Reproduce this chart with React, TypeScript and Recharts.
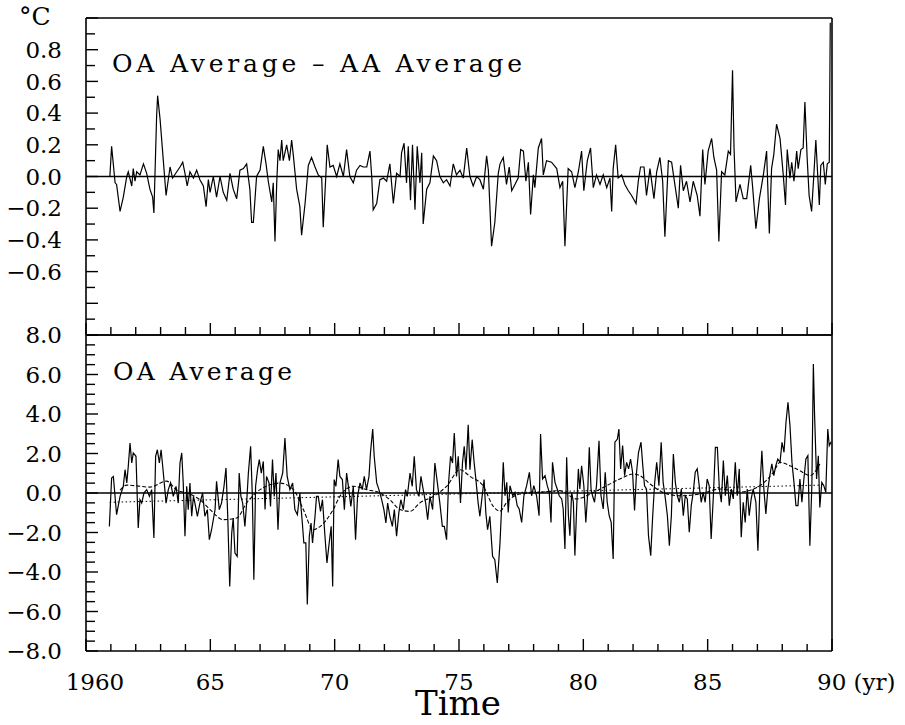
import { LineChart, Line, XAxis, YAxis, ReferenceLine } from 'recharts'

// ---- data: [year, °C] ----

const diffSeries: [number, number][] = [
  [1960.96, 0.0], [1961.03, 0.19], [1961.17, -0.04], [1961.23, -0.05], [1961.37, -0.22], [1961.5, -0.13], [1961.64, 0.0], [1961.7, 0.03],
  [1961.84, -0.06], [1961.9, 0.05], [1961.97, -0.03], [1962.04, 0.03], [1962.17, 0.01], [1962.31, 0.08], [1962.44, 0.02], [1962.57, -0.08],
  [1962.68, -0.13], [1962.73, -0.23], [1962.84, 0.38], [1962.88, 0.51], [1962.98, 0.36], [1963.11, 0.1], [1963.22, -0.12], [1963.38, 0.06],
  [1963.48, -0.01], [1963.65, 0.03], [1963.78, 0.06], [1963.89, 0.09], [1963.98, 0.02], [1964.07, -0.06], [1964.18, 0.03], [1964.32, -0.01],
  [1964.45, 0.04], [1964.58, -0.02], [1964.72, -0.06], [1964.83, -0.19], [1964.92, -0.02], [1964.99, -0.1], [1965.12, 0.0], [1965.25, -0.13],
  [1965.39, 0.0], [1965.52, -0.1], [1965.66, -0.15], [1965.79, 0.02], [1965.92, -0.08], [1966.06, -0.14], [1966.19, 0.04], [1966.33, 0.05],
  [1966.46, 0.08], [1966.59, -0.08], [1966.66, -0.29], [1966.73, -0.29], [1966.86, 0.0], [1967.0, 0.04], [1967.13, 0.19], [1967.24, 0.08],
  [1967.33, -0.03], [1967.47, -0.16], [1967.53, -0.04], [1967.6, -0.41], [1967.67, -0.04], [1967.73, 0.17], [1967.8, 0.1], [1967.87, 0.23],
  [1967.93, 0.1], [1968.07, 0.2], [1968.18, 0.1], [1968.27, 0.23], [1968.34, 0.13], [1968.47, -0.08], [1968.6, -0.19], [1968.67, -0.37],
  [1968.81, -0.17], [1968.94, 0.07], [1969.07, 0.12], [1969.21, 0.06], [1969.34, 0.01], [1969.48, -0.01], [1969.54, -0.32], [1969.65, 0.02],
  [1969.7, 0.2], [1969.81, 0.06], [1969.94, 0.07], [1970.08, 0.0], [1970.21, 0.08], [1970.35, 0.0], [1970.48, 0.17], [1970.61, 0.0],
  [1970.75, -0.04], [1970.88, 0.04], [1971.02, 0.07], [1971.15, 0.06], [1971.29, 0.06], [1971.42, 0.16], [1971.49, 0.0], [1971.55, -0.21],
  [1971.69, -0.17], [1971.82, -0.02], [1971.96, -0.01], [1972.09, -0.03], [1972.22, 0.08], [1972.36, -0.17], [1972.49, 0.02], [1972.63, 0.0],
  [1972.69, 0.15], [1972.79, 0.21], [1972.89, -0.04], [1972.96, 0.19], [1973.05, -0.15], [1973.13, 0.2], [1973.23, -0.21], [1973.32, 0.19],
  [1973.43, -0.04], [1973.5, 0.15], [1973.56, -0.3], [1973.7, -0.08], [1973.83, -0.04], [1973.97, 0.13], [1974.1, 0.1], [1974.23, 0.0],
  [1974.37, -0.04], [1974.5, -0.02], [1974.64, -0.06], [1974.77, 0.08], [1974.9, 0.01], [1975.04, 0.04], [1975.17, -0.01], [1975.31, 0.18],
  [1975.44, 0.0], [1975.57, -0.06], [1975.71, 0.0], [1975.84, -0.02], [1975.98, -0.08], [1976.11, 0.13], [1976.18, 0.04], [1976.31, -0.44],
  [1976.44, -0.29], [1976.58, 0.02], [1976.65, 0.08], [1976.78, 0.12], [1976.91, -0.05], [1977.02, 0.06], [1977.12, -0.09], [1977.25, -0.05],
  [1977.38, -0.01], [1977.48, 0.17], [1977.59, 0.16], [1977.69, -0.03], [1977.79, 0.09], [1977.88, -0.24], [1977.99, 0.01], [1978.05, -0.07],
  [1978.19, 0.18], [1978.32, 0.24], [1978.39, 0.01], [1978.52, 0.1], [1978.72, 0.09], [1978.93, 0.05], [1979.06, -0.07], [1979.17, -0.03],
  [1979.26, -0.44], [1979.39, 0.05], [1979.53, 0.03], [1979.66, -0.07], [1979.8, 0.03], [1979.93, 0.16], [1980.02, -0.09], [1980.16, 0.1],
  [1980.29, 0.18], [1980.4, -0.07], [1980.53, 0.01], [1980.67, -0.05], [1980.8, 0.01], [1980.94, -0.07], [1981.07, -0.01], [1981.14, -0.22],
  [1981.2, 0.05], [1981.3, 0.2], [1981.4, -0.01], [1981.54, 0.01], [1981.67, -0.05], [1981.81, -0.09], [1981.94, -0.12], [1982.12, -0.17],
  [1982.21, -0.03], [1982.3, 0.06], [1982.44, 0.06], [1982.54, -0.12], [1982.68, 0.05], [1982.84, -0.14], [1982.95, 0.03], [1983.08, 0.12],
  [1983.19, -0.03], [1983.28, -0.38], [1983.42, 0.1], [1983.55, 0.09], [1983.68, -0.05], [1983.82, -0.2], [1983.91, 0.07], [1984.02, -0.09],
  [1984.15, -0.03], [1984.29, -0.16], [1984.42, -0.03], [1984.58, -0.12], [1984.69, -0.25], [1984.8, 0.17], [1984.89, -0.05], [1985.02, 0.16],
  [1985.16, 0.24], [1985.25, 0.12], [1985.36, 0.04], [1985.45, -0.41], [1985.56, 0.03], [1985.69, 0.01], [1985.83, 0.16], [1985.92, 0.14],
  [1986.0, 0.67], [1986.06, 0.18], [1986.14, -0.16], [1986.3, -0.05], [1986.43, -0.14], [1986.57, -0.14], [1986.73, 0.07], [1986.81, -0.07],
  [1986.94, -0.33], [1987.08, -0.14], [1987.24, 0.01], [1987.37, 0.16], [1987.48, -0.36], [1987.57, 0.05], [1987.66, 0.14], [1987.77, 0.33],
  [1987.91, 0.24], [1988.04, 0.01], [1988.13, -0.18], [1988.2, 0.17], [1988.31, -0.01], [1988.38, 0.09], [1988.47, -0.03], [1988.58, 0.16],
  [1988.64, 0.05], [1988.75, 0.17], [1988.84, 0.18], [1988.91, 0.47], [1989.0, 0.12], [1989.08, -0.12], [1989.18, -0.22], [1989.27, 0.01],
  [1989.35, 0.23], [1989.49, -0.18], [1989.55, 0.07], [1989.65, 0.09], [1989.73, -0.05], [1989.81, 0.08], [1989.89, 0.09], [1989.93, 0.97],
]

const oaSeries: [number, number][] = [
  [1960.94, -1.69], [1961.03, 0.76], [1961.1, 0.84], [1961.23, -1.1], [1961.37, -0.17], [1961.5, 0.34], [1961.57, 1.18], [1961.64, 0.51],
  [1961.7, 1.35], [1961.77, 2.53], [1961.84, 1.52], [1961.9, 2.03], [1962.01, 1.86], [1962.1, -1.77], [1962.17, -0.34], [1962.24, -0.51],
  [1962.33, 0.0], [1962.44, 0.17], [1962.55, -0.17], [1962.64, 0.17], [1962.73, -2.28], [1962.8, 1.86], [1962.87, 2.19], [1962.95, 1.52],
  [1963.02, 2.19], [1963.11, 1.01], [1963.22, -0.51], [1963.31, 0.17], [1963.4, 0.51], [1963.51, -0.17], [1963.62, 0.34], [1963.71, -0.51],
  [1963.78, 1.52], [1963.85, 2.03], [1963.91, 0.51], [1963.98, -2.19], [1964.05, 0.34], [1964.11, -0.84], [1964.18, 0.51], [1964.25, -1.18],
  [1964.32, -0.17], [1964.38, -0.51], [1964.48, -1.18], [1964.58, -0.51], [1964.69, 0.0], [1964.78, -1.18], [1964.88, -0.84], [1964.96, -2.36],
  [1965.05, -1.86], [1965.19, -0.84], [1965.25, 0.59], [1965.36, -0.84], [1965.45, -0.51], [1965.55, 0.34], [1965.63, 1.27], [1965.7, -1.18],
  [1965.78, -4.73], [1965.86, -2.03], [1965.92, -1.27], [1965.99, -3.04], [1966.08, -3.21], [1966.16, 1.01], [1966.23, -0.17], [1966.3, -0.51],
  [1966.39, -1.69], [1966.46, -0.51], [1966.53, 1.01], [1966.62, 2.36], [1966.69, -0.17], [1966.75, -4.39], [1966.82, 0.34], [1966.9, 1.18],
  [1966.97, 1.69], [1967.05, 1.01], [1967.13, 1.6], [1967.2, -0.84], [1967.26, 0.84], [1967.36, 0.51], [1967.42, -0.68], [1967.5, 1.69],
  [1967.57, -0.17], [1967.64, 1.01], [1967.72, -1.86], [1967.8, 0.51], [1967.91, 1.01], [1968.0, 2.78], [1968.09, 0.84], [1968.2, 0.17],
  [1968.31, 0.51], [1968.4, -0.84], [1968.5, -1.1], [1968.6, 0.0], [1968.7, -1.52], [1968.76, -2.53], [1968.84, -2.53], [1968.9, -5.65],
  [1968.98, -2.19], [1969.05, -1.52], [1969.11, -2.53], [1969.21, -1.18], [1969.27, -0.17], [1969.34, -0.17], [1969.43, -0.93], [1969.51, -0.34],
  [1969.61, -2.19], [1969.69, -3.54], [1969.78, -2.53], [1969.86, -1.69], [1969.92, -4.73], [1969.98, 0.68], [1970.05, 0.34], [1970.14, 1.69],
  [1970.21, 0.84], [1970.31, 0.68], [1970.39, -0.84], [1970.48, 1.01], [1970.57, 0.17], [1970.65, -0.68], [1970.75, 0.34], [1970.84, -2.36],
  [1970.92, -0.17], [1971.02, 0.51], [1971.11, 0.17], [1971.19, 0.84], [1971.28, 0.17], [1971.38, 0.84], [1971.44, 2.03], [1971.53, 3.24],
  [1971.59, 1.86], [1971.69, 0.51], [1971.78, 0.17], [1971.89, -0.34], [1971.98, -0.84], [1972.06, -1.52], [1972.13, -0.51], [1972.22, -1.18],
  [1972.32, -1.69], [1972.4, -0.84], [1972.49, -2.19], [1972.58, -1.01], [1972.66, -0.34], [1972.76, -0.84], [1972.85, 0.17], [1972.92, -0.17],
  [1973.03, 1.01], [1973.12, 0.34], [1973.2, 1.86], [1973.29, 0.17], [1973.39, -0.17], [1973.47, 0.84], [1973.56, 0.17], [1973.66, -0.51],
  [1973.74, -1.35], [1973.83, -0.17], [1973.94, -0.84], [1974.03, 1.52], [1974.13, 0.51], [1974.23, -0.51], [1974.33, -1.69], [1974.41, -1.69],
  [1974.5, -2.36], [1974.58, 0.51], [1974.66, 1.86], [1974.74, 1.52], [1974.81, 3.04], [1974.9, 0.84], [1974.97, 1.86], [1975.06, -0.51],
  [1975.14, 1.52], [1975.21, 2.36], [1975.28, 1.18], [1975.37, 3.46], [1975.44, 1.18], [1975.53, 2.7], [1975.61, 1.52], [1975.68, 0.68],
  [1975.77, -0.51], [1975.84, -1.18], [1975.93, -0.17], [1976.01, 0.68], [1976.08, -1.01], [1976.15, -1.86], [1976.24, -1.18], [1976.35, -3.21],
  [1976.44, -3.38], [1976.54, -4.56], [1976.65, -2.5], [1976.71, -0.81], [1976.78, 1.55], [1976.85, -0.14], [1976.92, 0.54], [1976.98, -0.98],
  [1977.05, 0.37], [1977.16, -0.14], [1977.25, 0.03], [1977.34, -0.64], [1977.42, -0.81], [1977.52, -1.49], [1977.61, -0.14], [1977.72, 0.37],
  [1977.83, 1.05], [1977.92, -0.14], [1978.01, 0.37], [1978.12, -0.14], [1978.22, -1.15], [1978.28, 2.99], [1978.36, 0.71], [1978.46, 0.88],
  [1978.55, 0.37], [1978.63, 0.03], [1978.7, -1.49], [1978.76, 1.55], [1978.86, 0.54], [1978.95, 0.2], [1979.03, -0.14], [1979.13, -0.3],
  [1979.19, -0.81], [1979.26, -2.84], [1979.33, 1.81], [1979.4, -1.15], [1979.46, -2.16], [1979.53, 0.03], [1979.6, -0.47], [1979.66, -3.17],
  [1979.73, -0.81], [1979.8, 1.22], [1979.86, 0.2], [1979.93, 1.38], [1980.02, 0.37], [1980.1, -1.49], [1980.17, -0.14], [1980.24, 2.31],
  [1980.31, 0.2], [1980.37, -0.14], [1980.45, -0.47], [1980.53, 0.37], [1980.63, 2.65], [1980.71, -0.14], [1980.8, -0.81], [1980.88, 1.05],
  [1980.96, -0.47], [1981.04, -1.15], [1981.12, -1.49], [1981.2, -3.34], [1981.27, 2.57], [1981.37, 2.73], [1981.43, 3.24], [1981.5, 1.22],
  [1981.58, 2.4], [1981.66, 0.88], [1981.74, 1.55], [1981.82, 1.22], [1981.9, 1.72], [1981.98, 1.05], [1982.06, -0.89], [1982.14, 1.05],
  [1982.22, 2.06], [1982.32, 2.57], [1982.38, 1.55], [1982.46, 0.37], [1982.54, 0.2], [1982.62, -2.16], [1982.71, -3.17], [1982.79, -1.15],
  [1982.87, 0.54], [1982.95, 1.55], [1983.04, 0.37], [1983.13, 2.57], [1983.21, 0.54], [1983.3, -0.3], [1983.38, -1.15], [1983.46, -2.67],
  [1983.54, -1.15], [1983.62, 1.97], [1983.7, 0.54], [1983.78, -0.14], [1983.86, -0.47], [1983.94, 0.2], [1984.02, -1.15], [1984.1, -0.14],
  [1984.18, -0.3], [1984.26, -1.99], [1984.34, -0.64], [1984.42, 0.03], [1984.5, 1.05], [1984.58, 1.22], [1984.66, 0.37], [1984.74, -0.47],
  [1984.82, 0.03], [1984.9, -0.47], [1984.98, 0.71], [1985.06, 0.37], [1985.14, -2.33], [1985.23, -0.14], [1985.31, 2.31], [1985.39, 2.31],
  [1985.47, 0.2], [1985.55, -0.47], [1985.63, 1.64], [1985.71, -0.14], [1985.79, 0.88], [1985.87, -0.64], [1985.95, 0.2], [1986.03, -0.3],
  [1986.11, 1.55], [1986.19, -0.14], [1986.27, 1.22], [1986.35, -2.24], [1986.43, -0.47], [1986.51, -1.49], [1986.59, 0.2], [1986.67, -1.15],
  [1986.75, -0.3], [1986.83, 0.2], [1986.94, -0.47], [1987.02, -2.92], [1987.1, 0.2], [1987.18, 2.14], [1987.26, 0.2], [1987.34, -1.06],
  [1987.42, 0.2], [1987.5, 0.88], [1987.58, 1.47], [1987.66, 0.88], [1987.74, 1.38], [1987.82, 1.72], [1987.91, 1.55], [1987.99, 2.57],
  [1988.07, 2.06], [1988.15, 3.58], [1988.23, 4.59], [1988.31, 3.41], [1988.39, 1.55], [1988.47, 0.54], [1988.55, -0.64], [1988.63, -0.64],
  [1988.71, 0.71], [1988.79, -0.47], [1988.87, 0.71], [1988.95, 1.72], [1989.03, 1.89], [1989.11, -2.67], [1989.19, 0.37], [1989.25, 6.53],
  [1989.3, 3.92], [1989.38, 0.71], [1989.45, 1.89], [1989.51, -0.73], [1989.59, 0.54], [1989.67, 0.37], [1989.75, 0.03], [1989.83, 3.24],
  [1989.89, 2.4], [1989.97, 2.6],
]

// running mean (dashed)
const oaSmooth: [number, number][] = [
  [1961.37, 0.15], [1961.64, 0.4], [1962.57, 0.3], [1963.24, 0.6], [1963.65, 0.15], [1964.05, 0.0], [1964.58, -0.34], [1964.99, -0.84],
  [1965.52, -1.35], [1966.06, -1.27], [1966.46, -0.5], [1967.0, 0.17], [1967.8, 0.5], [1968.34, 0.17], [1968.74, -0.84], [1969.14, -1.86],
  [1969.41, -1.7], [1969.94, -0.84], [1970.21, -0.17], [1970.75, 0.34], [1971.29, 0.17], [1971.82, 0.0], [1972.22, -0.34], [1972.63, -0.84],
  [1973.03, -0.93], [1973.43, -0.5], [1973.97, -0.17], [1974.5, 0.34], [1975.04, 1.18], [1975.44, 0.84], [1975.98, 0.34], [1976.38, -0.68],
  [1976.65, -0.92], [1976.92, -0.47], [1977.45, -0.05], [1978.26, 0.03], [1979.06, 0.12], [1979.73, -0.3], [1980.4, 0.03], [1980.94, 0.37],
  [1981.47, 0.71], [1982.01, 0.96], [1982.28, 0.88], [1982.68, 0.46], [1983.21, 0.03], [1983.88, -0.14], [1984.69, -0.05], [1985.49, 0.2],
  [1986.3, 0.05], [1987.1, 0.37], [1987.64, 1.05], [1987.91, 1.55], [1988.31, 1.38], [1988.71, 1.13], [1989.11, 0.88], [1989.51, 1.47],
]

// linear trend (dotted)
const oaTrend: [number, number][] = [[1960.95, -0.47], [1989.6, 0.4]]

// ---- ticks ----
const years = [
  1960, 1961, 1962, 1963, 1964, 1965, 1966, 1967, 1968, 1969, 1970, 1971, 1972, 1973, 1974, 1975,
  1976, 1977, 1978, 1979, 1980, 1981, 1982, 1983, 1984, 1985, 1986, 1987, 1988, 1989, 1990,
]
const yearLabels: Record<number, string> = {
  1960: '1960', 1965: '65', 1970: '70', 1975: '75', 1980: '80', 1985: '85', 1990: '90 (yr)',
}
const diffTicks = [-1, -0.9, -0.8, -0.7, -0.6, -0.5, -0.4, -0.3, -0.2, -0.1, 0, 0.1, 0.2, 0.3, 0.4, 0.5, 0.6, 0.7, 0.8, 0.9, 1]
const diffLabels = [0.8, 0.6, 0.4, 0.2, 0, -0.2, -0.4, -0.6]
const oaTicks = [
  -8, -7.5, -7, -6.5, -6, -5.5, -5, -4.5, -4, -3.5, -3, -2.5, -2, -1.5, -1, -0.5, 0,
  0.5, 1, 1.5, 2, 2.5, 3, 3.5, 4, 4.5, 5, 5.5, 6, 6.5, 7, 7.5, 8,
]
const oaLabels = [8, 6, 4, 2, 0, -2, -4, -6, -8]

const toRows = (s: [number, number][]) => s.map(([t, v]) => ({ t, v }))

const INK = '#000'
const serifText = { fontFamily: "'DejaVu Serif', serif" }
const frame = { stroke: INK, strokeWidth: 1.6 }

const near = (a: number, b: number) => Math.abs(a - b) < 1e-6
const isMult = (v: number, step: number) => near(v / step, Math.round(v / step))
const fmt = (v: number) => (near(v, 0) ? '0.0' : v.toFixed(1).replace('-', '\u2212'))

// all axes use tickSize 0 / tickMargin 0 so (x, y) is the point on the axis line
const leftTick = (labels: number[], step: number) => (p: any) => {
  const v = p.payload.value
  const len = isMult(v, step) ? 12 : 9
  const show = labels.some((l) => near(l, v))
  return (
    <g>
      <line x1={p.x} x2={p.x + len} y1={p.y} y2={p.y} stroke={INK} strokeWidth={1.4} />
      {show && (
        <text x={p.x - 24} y={p.y} dy="0.36em" textAnchor="end" fontSize={23} style={serifText} fill={INK}>
          {fmt(v)}
        </text>
      )}
    </g>
  )
}

const rightTick = (step: number) => (p: any) => {
  const len = isMult(p.payload.value, step) ? 12 : 7
  return <line x1={p.x} x2={p.x - len} y1={p.y} y2={p.y} stroke={INK} strokeWidth={1.4} />
}

// dir: +1 draws downward from the axis line, -1 upward
const yearTick = (dir: number, major: number, minor: number) => (p: any) => {
  const len = p.payload.value % 5 === 0 ? major : minor
  return <line x1={p.x} x2={p.x} y1={p.y} y2={p.y + dir * len} stroke={INK} strokeWidth={1.4} />
}

const bottomYearTick = (p: any) => {
  const v = p.payload.value
  const len = v % 5 === 0 ? 12 : 7
  const label = yearLabels[v]
  let lx = p.x
  let anchor = 'middle'
  if (v === 1960) lx = p.x + 9
  if (v === 1990) {
    lx = p.x - 15
    anchor = 'start'
  }
  return (
    <g>
      <line x1={p.x} x2={p.x} y1={p.y} y2={p.y - len} stroke={INK} strokeWidth={1.4} />
      {label && (
        <text x={lx} y={p.y + 39} textAnchor={anchor} fontSize={23} style={serifText} fill={INK}>
          {label}
        </text>
      )}
    </g>
  )
}

export default function App() {
  return (
    <div style={{ position: 'absolute', left: 0, top: 0, width: 905, height: 725, background: '#fff' }}>
      <div style={{ position: 'absolute', left: 0, top: 0 }}>
        <LineChart width={905} height={340} margin={{ top: 18, right: 73, bottom: 5, left: 0 }}>
          <XAxis xAxisId="b" type="number" dataKey="t" domain={[1960, 1990]} ticks={years} interval={0}
            orientation="bottom" mirror tickSize={0} tickMargin={0} tickLine={false} axisLine={frame}
            tick={yearTick(-1, 12, 8)} />
          <XAxis xAxisId="t" type="number" dataKey="t" domain={[1960, 1990]} ticks={years} interval={0}
            orientation="top" mirror tickSize={0} tickMargin={0} tickLine={false} axisLine={frame}
            tick={yearTick(1, 13, 8)} />
          <YAxis yAxisId="l" type="number" domain={[-1, 1]} ticks={diffTicks} interval={0} width={86}
            tickSize={0} tickMargin={0} tickLine={false} axisLine={frame} tick={leftTick(diffLabels, 0.2)} />
          <YAxis yAxisId="r" type="number" domain={[-1, 1]} ticks={diffTicks} interval={0} orientation="right"
            mirror tickSize={0} tickMargin={0} tickLine={false} axisLine={frame} tick={rightTick(0.2)} />
          <ReferenceLine xAxisId="b" yAxisId="l" y={0} stroke={INK} strokeWidth={1.6} />
          <Line xAxisId="b" yAxisId="l" data={toRows(diffSeries)} dataKey="v" type="linear" dot={false}
            stroke={INK} strokeWidth={1.2} isAnimationActive={false} />
        </LineChart>
      </div>

      <div style={{ position: 'absolute', left: 0, top: 305 }}>
        <LineChart width={905} height={420} margin={{ top: 30, right: 73, bottom: 0, left: 0 }}>
          <XAxis xAxisId="b" type="number" dataKey="t" domain={[1960, 1990]} ticks={years} interval={0}
            orientation="bottom" height={74} tickSize={0} tickMargin={0} tickLine={false} axisLine={frame}
            tick={bottomYearTick} />
          <XAxis xAxisId="t" type="number" dataKey="t" domain={[1960, 1990]} ticks={years} interval={0}
            orientation="top" mirror tickSize={0} tickMargin={0} tickLine={false} axisLine={frame}
            tick={yearTick(1, 12, 8)} />
          <YAxis yAxisId="l" type="number" domain={[-8, 8]} ticks={oaTicks} interval={0} width={86}
            tickSize={0} tickMargin={0} tickLine={false} axisLine={frame} tick={leftTick(oaLabels, 2)} />
          <YAxis yAxisId="r" type="number" domain={[-8, 8]} ticks={oaTicks} interval={0} orientation="right"
            mirror tickSize={0} tickMargin={0} tickLine={false} axisLine={frame} tick={rightTick(2)} />
          <ReferenceLine xAxisId="b" yAxisId="l" y={0} stroke={INK} strokeWidth={1.6} />
          <Line xAxisId="b" yAxisId="l" data={toRows(oaTrend)} dataKey="v" type="linear" dot={false}
            stroke={INK} strokeWidth={1} strokeDasharray="1.5 2.5" isAnimationActive={false} />
          <Line xAxisId="b" yAxisId="l" data={toRows(oaSmooth)} dataKey="v" type="monotone" dot={false}
            stroke={INK} strokeWidth={1.1} strokeDasharray="4 2" isAnimationActive={false} />
          <Line xAxisId="b" yAxisId="l" data={toRows(oaSeries)} dataKey="v" type="linear" dot={false}
            stroke={INK} strokeWidth={1.2} isAnimationActive={false} />
        </LineChart>
      </div>

      <svg width={905} height={725} style={{ position: 'absolute', left: 0, top: 0, pointerEvents: 'none' }}>
        <text x={19} y={25} fontSize={25} style={serifText} fill={INK}>°C</text>
        <text x={112} y={72} fontSize={25} style={serifText} fill={INK} textLength={410} lengthAdjust="spacing">
          OA Average – AA Average
        </text>
        <text x={113} y={380} fontSize={25} style={serifText} fill={INK} textLength={179} lengthAdjust="spacing">
          OA Average
        </text>
        <text x={458} y={715} textAnchor="middle" fontSize={34} style={serifText} fill={INK}>Time</text>
      </svg>
    </div>
  )
}
